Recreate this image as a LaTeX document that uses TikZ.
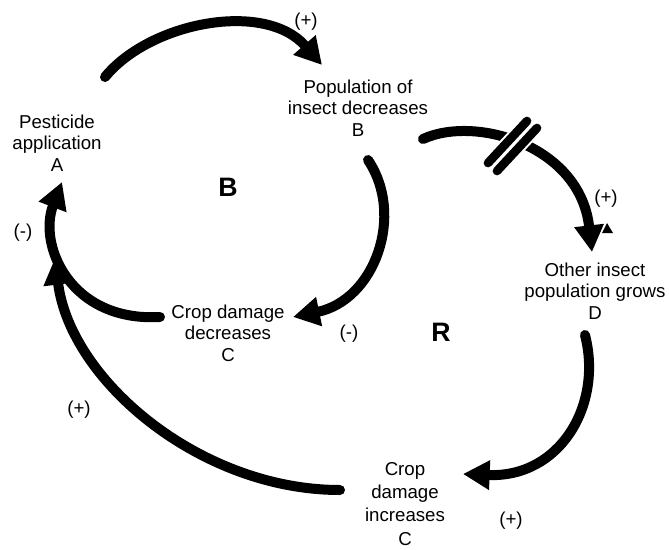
\documentclass[tikz,border=0pt]{standalone}
\usepackage{fontspec}
\setmainfont{Liberation Sans}
\usetikzlibrary{arrows.meta}
\begin{document}
\begin{tikzpicture}[x=0.75pt,y=-0.75pt,
  link/.style={line width=7.5pt, line cap=round, -{Triangle[length=20pt,width=21pt]}},
  var/.style={align=center, inner sep=0pt, font=\fontsize{14}{16.2}\selectfont},
  pol/.style={inner sep=0pt, font=\fontsize{14}{16}\selectfont},
  loopname/.style={inner sep=0pt, font=\fontsize{20}{24}\selectfont\bfseries},
  delaybar/.style={line width=6.5pt, line cap=round},
  delaygap/.style={white, line width=9.5pt, line cap=round}]
\useasboundingbox (0,0) rectangle (669,550);

% variables
\node[var] (A) at (57,143) {Pesticide\\application\\A};
\node[var] (B) at (358,108) {Population of\\insect decreases\\B};
\node[var] (C1) at (228,333) {Crop damage\\decreases\\C};
\node[var] (D) at (595,291) {Other insect\\population grows\\D};
\node[var, font=\fontsize{14}{17.3}\selectfont] (C2) at (405,504) {Crop\\damage\\increases\\C};

% loop names
\node[loopname] (loopB) at (228,187) {B};
\node[loopname] (loopR) at (441,332) {R};

% polarities
\node[pol] (pAB) at (306,22) {(+)};
\node[pol] (pBC) at (349,334) {(-)};
\node[pol] (pCA) at (23,233) {(-)};
\node[pol] (pBD) at (606,199) {(+)};
\node[pol] (pDC) at (511,521) {(+)};
\node[pol] (pCA2) at (79,410) {(+)};

% connector ends
\coordinate (ab0) at (105,77);  \coordinate (ab1) at (322,65);
\coordinate (bc0) at (368,160); \coordinate (bc1) at (293,317);
\coordinate (ca0) at (160,317); \coordinate (ca1) at (62,182);
\coordinate (bd0) at (423,139); \coordinate (bd1) at (592,252);
\coordinate (dc0) at (585,335); \coordinate (dc1) at (463,474);
\coordinate (cb0) at (340,490); \coordinate (cb1) at (55,258);

% balancing loop
\draw[link] (ab0) .. controls (150,22) and (265,0) .. (ab1);
\draw[link] (bc0) .. controls (405,215) and (375,300) .. (bc1);
\draw[link] (ca0) .. controls (70,322) and (38,245) .. (ca1);

% reinforcing loop
\draw[link] (bd0) .. controls (475,115) and (580,145) .. (bd1);
\draw[link] (dc0) .. controls (603,405) and (560,478) .. (dc1);
\draw[link] (cb0) .. controls (200,490) and (70,380) .. (cb1);

% delay marks on B -> D
\draw[delaygap] (488,163) -- (527,121);
\draw[delaybar] (488,163) -- (527,121);
\draw[delaygap] (497,171) -- (537,128);
\draw[delaybar] (497,171) -- (537,128);

% small marker beside the D arrowhead
\fill (602,233) -- (607,223) -- (613,233) -- cycle;
\end{tikzpicture}
\end{document}
